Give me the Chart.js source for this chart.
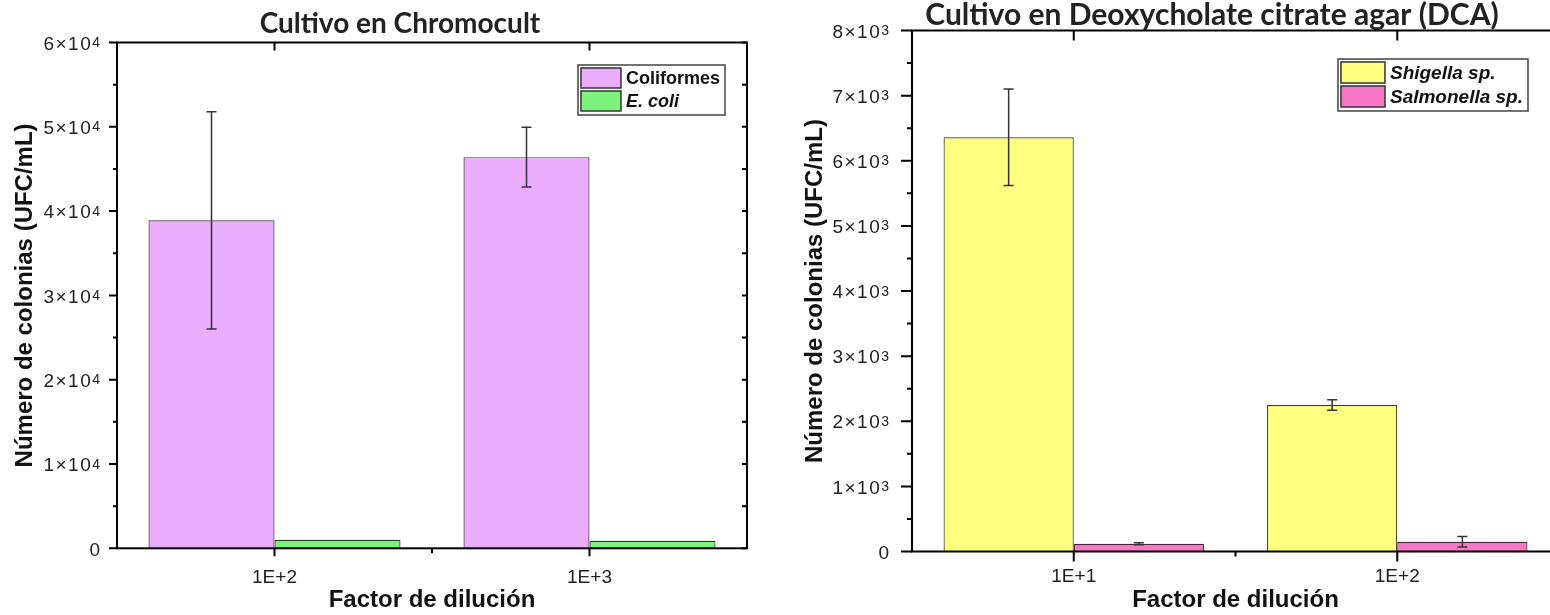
<!DOCTYPE html>
<html>
<head>
<meta charset="utf-8">
<script src="https://cdn.jsdelivr.net/npm/chart.js@4.4.1/dist/chart.umd.min.js"></script>
<style>
  html, body { margin: 0; padding: 0; background: #fff; overflow: hidden; }
  body { width: 1550px; height: 615px; position: relative; }
  canvas { position: absolute; top: 0; }
  #chart-left { left: 0; }
  #chart-right { left: 790px; }
</style>
</head>
<body>
<canvas id="chart-left" width="800" height="615"></canvas>
<canvas id="chart-right" width="844" height="615"></canvas>
<script>
// valores
const dilucionChromo = ['1E+2', '1E+3'];
const coliformes = [38900, 46400];
const coliformesErr = [12900, 3550];
const eColi = [1000, 900];
const eColiErr = [0, 0];
const ticksChromo = ['0', '1×10⁴', '2×10⁴', '3×10⁴', '4×10⁴', '5×10⁴', '6×10⁴'];

const dilucionDCA = ['1E+1', '1E+2'];
const shigella = [6360, 2250];
const shigellaErr = [740, 80];
const salmonella = [120, 150];
const salmonellaErr = [15, 80];
const ticksDCA = ['0', '1×10³', '2×10³', '3×10³', '4×10³', '5×10³', '6×10³', '7×10³', '8×10³'];

const fuenteArial = '"Liberation Sans", Arial, sans-serif';
const superindices = '⁰¹²³⁴⁵⁶⁷⁸⁹';

// barras de error (+/- desviacion) sobre cada barra
const barrasError = {
  id: 'barrasError',
  afterDatasetsDraw(chart) {
    const ctx = chart.ctx;
    const y = chart.scales.y;
    chart.data.datasets.forEach((ds, i) => {
      if (!ds.errores) return;
      chart.getDatasetMeta(i).data.forEach((bar, j) => {
        const e = ds.errores[j];
        if (!e) return;
        const yt = y.getPixelForValue(ds.data[j] + e);
        const yb = y.getPixelForValue(ds.data[j] - e);
        ctx.save();
        ctx.strokeStyle = '#333';
        ctx.lineWidth = 1.5;
        ctx.beginPath();
        ctx.moveTo(bar.x, yt); ctx.lineTo(bar.x, yb);
        ctx.moveTo(bar.x - 5, yt); ctx.lineTo(bar.x + 5, yt);
        ctx.moveTo(bar.x - 5, yb); ctx.lineTo(bar.x + 5, yb);
        ctx.stroke();
        ctx.restore();
      });
    });
  }
};

// el titulo no va centrado sobre el area, se corre un poco
const ajusteTitulo = {
  id: 'ajusteTitulo',
  afterLayout(chart, args, o) {
    const t = chart.titleBlock;
    if (!t) return;
    t.left += o.dx;
    t.right += o.dx;
  }
};

// marco del grafico con marcas mayores y menores, y etiquetas del eje y con exponente
const marco = {
  id: 'marco',
  afterDatasetsDraw(chart, args, o) {
    const { ctx, chartArea: a, scales: { x, y } } = chart;
    ctx.save();
    ctx.strokeStyle = '#000';
    ctx.lineWidth = 2;
    ctx.strokeRect(a.left, a.top, a.right - a.left, a.bottom - a.top);
    ctx.beginPath();
    const n = Math.round((y.max - y.min) / o.paso) * 2;
    for (let k = 0; k <= n; k++) {
      const py = y.getPixelForValue(y.min + k * o.paso / 2);
      const mayor = k % 2 === 0;
      ctx.moveTo(a.left - (mayor ? o.marcaY : o.menorY), py);
      ctx.lineTo(a.left, py);
      if (mayor || o.derechaMenores) {
        ctx.moveTo(a.right, py);
        ctx.lineTo(a.right - o.derechaY, py);
      }
    }
    const cats = chart.data.labels.length;
    for (let i = 0; i < cats; i++) {
      const px = x.getPixelForValue(i);
      ctx.moveTo(px, a.bottom); ctx.lineTo(px, a.bottom + o.marcaX);
      ctx.moveTo(px, a.top); ctx.lineTo(px, a.top + o.marcaX);
      if (i < cats - 1) {
        const pm = x.getPixelForValue(i + 0.5);
        ctx.moveTo(pm, a.bottom); ctx.lineTo(pm, a.bottom + o.menorX);
      }
    }
    ctx.stroke();

    // etiquetas: mantisa normal + exponente elevado
    ctx.fillStyle = '#222';
    y.ticks.forEach((t, i) => {
      const txt = o.etiquetas[i];
      let base = txt, exp = '';
      while (base.length && superindices.includes(base[base.length - 1])) {
        exp = superindices.indexOf(base[base.length - 1]) + exp;
        base = base.slice(0, -1);
      }
      const py = y.getPixelForValue(t.value);
      const xr = a.left - o.sepEtiqueta;
      ctx.font = '14px ' + fuenteArial;
      ctx.letterSpacing = '0px';
      const we = exp ? ctx.measureText(exp).width : 0;
      if (exp) {
        ctx.textAlign = 'right';
        ctx.textBaseline = 'alphabetic';
        ctx.fillText(exp, xr, py + 4.5);
      }
      ctx.font = '19px ' + fuenteArial;
      ctx.letterSpacing = exp ? '1.5px' : '0px';
      ctx.textAlign = 'right';
      ctx.textBaseline = 'middle';
      ctx.fillText(base, xr - we, py + 2);
    });
    ctx.restore();
  }
};

// leyenda con recuadro dentro del area
const leyendaCaja = {
  id: 'leyendaCaja',
  afterDraw(chart, args, o) {
    const { ctx, chartArea: a } = chart;
    const sets = chart.data.datasets;
    ctx.save();
    const fuentes = sets.map(ds => (ds.cursiva ? 'italic ' : '') + 'bold ' + o.tam + 'px ' + fuenteArial);
    let anchoTexto = 0;
    sets.forEach((ds, i) => {
      ctx.font = fuentes[i];
      anchoTexto = Math.max(anchoTexto, ctx.measureText(ds.label).width);
    });
    const w = 3 + o.muestraW + 5 + anchoTexto + 5;
    const h = 4 + sets.length * o.fila;
    const x0 = a.right - o.margenDer - w;
    const y0 = a.top + o.margenSup;
    ctx.fillStyle = '#fff';
    ctx.fillRect(x0, y0, w, h);
    ctx.strokeStyle = '#444';
    ctx.lineWidth = 1.5;
    ctx.strokeRect(x0, y0, w, h);
    sets.forEach((ds, i) => {
      const ry = y0 + 3 + i * o.fila;
      ctx.fillStyle = ds.backgroundColor;
      ctx.fillRect(x0 + 3, ry, o.muestraW, o.fila - 3);
      ctx.strokeStyle = '#333';
      ctx.strokeRect(x0 + 3, ry, o.muestraW, o.fila - 3);
      ctx.fillStyle = '#111';
      ctx.font = fuentes[i];
      ctx.textBaseline = 'middle';
      ctx.fillText(ds.label, x0 + 3 + o.muestraW + 5, ry + (o.fila - 3) / 2 + 1);
    });
    ctx.restore();
  }
};

function opcionesEjes(maxY, pasoY, anchoY, altoX, padX, padTituloY) {
  return {
    x: {
      offset: true,
      grid: { display: false, drawTicks: false },
      border: { display: false },
      ticks: { color: '#222', padding: padX, font: { family: fuenteArial, size: 19 } },
      title: { display: true, text: 'Factor de dilución', color: '#111', padding: { top: 0, bottom: 0 },
        font: { family: fuenteArial, size: 24, weight: 'bold' } },
      afterFit: s => { s.height = altoX; }
    },
    y: {
      min: 0,
      max: maxY,
      grid: { display: false, drawTicks: false },
      border: { display: false },
      ticks: { stepSize: pasoY, display: false },
      title: { display: true, text: 'Número de colonias (UFC/mL)', color: '#111', padding: { top: padTituloY, bottom: 0 },
        font: { family: fuenteArial, size: 24, weight: 'bold' } },
      afterFit: s => { s.width = anchoY; }
    }
  };
}

new Chart(document.getElementById('chart-left'), {
  type: 'bar',
  data: {
    labels: dilucionChromo,
    datasets: [
      { label: 'Coliformes', data: coliformes, errores: coliformesErr,
        backgroundColor: '#EAADFB', borderColor: '#4a3550', borderWidth: 1.2 },
      { label: 'E. coli', data: eColi, errores: eColiErr, cursiva: true,
        backgroundColor: '#7DF27D', borderColor: '#1d3a1d', borderWidth: 1.2 }
    ]
  },
  options: {
    responsive: false,
    animation: false,
    layout: { padding: { left: 0, right: 53, top: 0, bottom: 0 } },
    datasets: { bar: { categoryPercentage: 0.8, barPercentage: 1.0 } },
    plugins: {
      legend: { display: false },
      tooltip: { enabled: false },
      title: { display: true, text: 'Cultivo en Chromocult', color: '#222',
        font: { family: 'Lato', size: 28, weight: 'bold', lineHeight: 1 }, padding: { top: 10, bottom: 4.5 } },
      ajusteTitulo: { dx: 26.5 },
      marco: { paso: 10000, marcaY: 8, menorY: 4, derechaY: 5, derechaMenores: true, marcaX: 8, menorX: 5,
        etiquetas: ticksChromo, sepEtiqueta: 17 },
      leyendaCaja: { tam: 18, muestraW: 40, fila: 23, margenDer: 22, margenSup: 22.5 }
    },
    scales: opcionesEjes(60000, 10000, 117, 66.7, 18, 10.6)
  },
  plugins: [ajusteTitulo, barrasError, marco, leyendaCaja]
});

new Chart(document.getElementById('chart-right'), {
  type: 'bar',
  data: {
    labels: dilucionDCA,
    datasets: [
      { label: 'Shigella sp.', data: shigella, errores: shigellaErr, cursiva: true,
        backgroundColor: '#FFFF80', borderColor: '#3d3d1a', borderWidth: 1.2 },
      { label: 'Salmonella sp.', data: salmonella, errores: salmonellaErr, cursiva: true,
        backgroundColor: '#F878C8', borderColor: '#4a2038', borderWidth: 1.2 }
    ]
  },
  options: {
    responsive: false,
    animation: false,
    layout: { padding: { left: 0, right: 75, top: 0, bottom: 0 } },
    datasets: { bar: { categoryPercentage: 0.805, barPercentage: 1.0 } },
    plugins: {
      legend: { display: false },
      tooltip: { enabled: false },
      title: { display: true, text: 'Cultivo en Deoxycholate citrate agar (DCA)', color: '#222',
        font: { family: 'Lato', size: 30, weight: 'bold', lineHeight: 1 }, padding: { top: 0, bottom: 0.5 } },
      ajusteTitulo: { dx: 37.5 },
      marco: { paso: 1000, marcaY: 11, menorY: 5, derechaY: 9, derechaMenores: false, marcaX: 10, menorX: 5,
        etiquetas: ticksDCA, sepEtiqueta: 23 },
      leyendaCaja: { tam: 19, muestraW: 44, fila: 24, margenDer: 31, margenSup: 28.5 }
    },
    scales: opcionesEjes(8000, 1000, 122, 63.5, 14, 10.6)
  },
  plugins: [ajusteTitulo, barrasError, marco, leyendaCaja]
});
</script>
</body>
</html>
